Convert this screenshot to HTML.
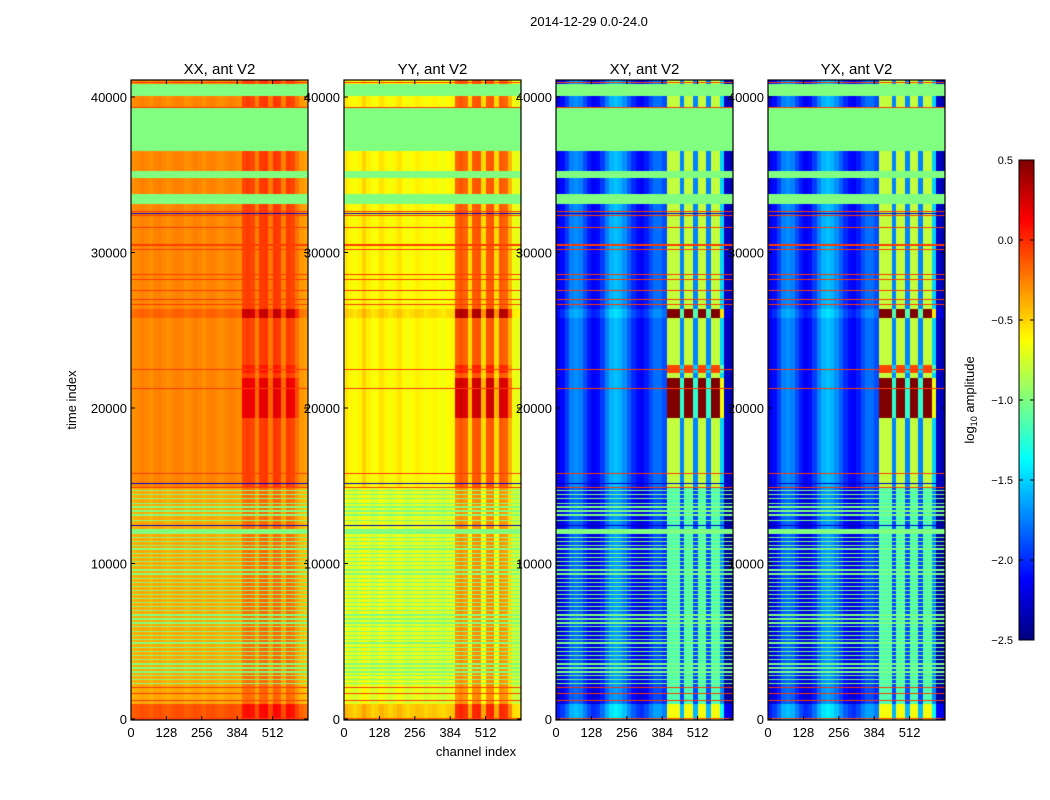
<!DOCTYPE html>
<html><head><meta charset="utf-8">
<style>
html,body{margin:0;padding:0;background:#fff;width:1050px;height:800px;overflow:hidden}
#wrap{position:relative;width:1050px;height:800px}
canvas,svg{position:absolute;left:0;top:0}
text{font-family:"Liberation Sans",sans-serif;fill:#000}
</style></head><body>
<div id="wrap">
<canvas id="hm" width="1050" height="800"></canvas>
<svg id="ov" width="1050" height="800"></svg>
</div>
<script>
// ---- data ----
const panelTitles = ["XX, ant V2","YY, ant V2","XY, ant V2","YX, ant V2"];
const xTicks = [0,128,256,384,512];
const yTicks = [0,10000,20000,30000,40000];
const cbTicks = [0.5,0.0,-0.5,-1.0,-1.5,-2.0,-2.5];
// column profiles, 40 bins of 16 channels (log10 amplitude)
const baseXX = [-0.3,-0.28,-0.25,-0.27,-0.3,-0.26,-0.25,-0.28,-0.3,-0.27,-0.25,-0.26,-0.3,-0.28,-0.25,-0.27,-0.3,-0.26,-0.25,-0.28,-0.3,-0.27,-0.25,-0.26,-0.28,-0.25,-0.22,-0.25,-0.3,-0.22,-0.2,-0.28,-0.2,-0.22,-0.3,-0.22,-0.25,-0.3,-0.32,-0.35];
const baseYY = [-0.55,-0.6,-0.65,-0.6,-0.5,-0.58,-0.65,-0.62,-0.55,-0.6,-0.65,-0.6,-0.55,-0.62,-0.66,-0.62,-0.58,-0.6,-0.65,-0.62,-0.6,-0.64,-0.66,-0.62,-0.6,-0.45,-0.4,-0.45,-0.6,-0.42,-0.4,-0.6,-0.42,-0.4,-0.6,-0.42,-0.45,-0.55,-0.68,-0.7];
const baseXY = [-2.2,-2.1,-1.95,-1.75,-1.7,-1.75,-1.9,-2.05,-2.15,-2.1,-1.95,-1.75,-1.6,-1.55,-1.6,-1.7,-1.85,-2.0,-2.1,-2.15,-2.05,-1.9,-1.8,-1.8,-1.9,-2.0,-2.0,-2.0,-2.1,-2.0,-2.0,-2.1,-2.0,-2.0,-2.1,-2.0,-2.0,-2.1,-2.3,-2.35];
const baseYX = [-2.2,-2.1,-1.95,-1.75,-1.7,-1.75,-1.9,-2.05,-2.15,-2.1,-1.95,-1.75,-1.6,-1.55,-1.6,-1.7,-1.85,-2.0,-2.1,-2.15,-2.05,-1.9,-1.8,-1.8,-1.9,-2.0,-2.0,-2.0,-2.1,-2.0,-2.0,-2.1,-2.0,-2.0,-2.1,-2.0,-2.0,-2.1,-2.3,-2.35];
const rfiShape = [0,0,0,0,0,0,0,0,0,0,0,0,0,0,0,0,0,0,0,0,0,0,0,0,0,1,1,1,0.3,1,1,0.3,1,1,0.3,1,1,0.5,0,0];
const rfiScale = [0.17,0.28,1.2,1.2];
// time segments: [start, end, flagValue|null, offset, rfiWeight]
const timeSegments = [
 [0,15000,null,-0.1,0.8],
 [0,1000,null,0.15,1],
 [19400,22000,null,0,2.4],
 [22300,22800,null,0,1.6],
 [25850,26430,null,0.1,2.4],
 [36590,39380,-1.0,0,0],[40130,40900,-1.0,0,0],[34855,35300,-1.0,0,0],[33180,33825,-1.0,0,0],[11960,12280,-1.0,0,0],
 [39380,39450,-0.05,0,0],[40950,41000,-0.05,0,0],[32900,32950,-0.05,0,0],[32700,32750,-0.05,0,0],[32400,32450,-0.05,0,0],
 [31650,31720,-0.05,0,0],[30500,30580,-0.05,0,0],[30200,30260,-0.05,0,0],[29100,29160,-0.05,0,0],[28600,28660,-0.05,0,0],
 [28300,28350,-0.05,0,0],[27600,27660,-0.05,0,0],[27000,27050,-0.05,0,0],[26700,26750,-0.05,0,0],[22500,22560,-0.05,0,0],
 [21300,21360,-0.05,0,0],[15800,15860,-0.05,0,0],[15600,15650,-0.05,0,0],[14900,14960,-0.05,0,0],[2050,2120,-0.05,0,0],
 [1700,1760,-0.05,0,0],[1450,1510,-0.05,0,0],[1250,1300,-0.05,0,0],[40,100,-0.05,0,0],
 [32540,32600,-2.3,0,0],[15200,15250,-2.3,0,0],[12480,12530,-2.3,0,0]
];
const stripeStarts = [14700,14450,14200,13900,13650,13400,13150,12800,11700,11450,11200,10950,10650,10400,10150,9900,9600,9350,9050,8800,8550,8300,8050,7750,7500,7250,7000,6700,6450,6200,5950,5650,5400,5150,4900,4600,4350,4100,3850,3550,3300,3050,2800,2550,2300];
const stripeWidth = 85;
const stripeValue = -1.0;

// ---- layout ----
const panelX = [131,344,556,768], panelW = 177, pTop = 80, pBot = 720;
const nChan = 640, vmin = -2.5, vmax = 0.5;
const bases = [baseXX,baseYY,baseXY,baseYX];
function yScale(t){return 719 - t*622/40000;}
function xScale(c,p){return panelX[p] + c*panelW/nChan;}
function jet(v){
  let x=(v-vmin)/(vmax-vmin); x=Math.max(0,Math.min(1,x));
  const f=(a)=>Math.max(0,Math.min(1,a));
  return [f(1.5-Math.abs(4*x-3))*255,f(1.5-Math.abs(4*x-2))*255,f(1.5-Math.abs(4*x-1))*255];
}
function valueAt(t,c,p){
  let flag=null,off=0,w=1;
  for(const s of timeSegments){ if(t>=s[0]&&t<s[1]){ if(s[2]!==null){flag=s[2];} else {flag=null;off=s[3];w=s[4];} } }
  for(const s of stripeStarts){ if(t>=s&&t<s+stripeWidth) flag=stripeValue; }
  if(flag!==null) return flag;
  const b=Math.min(39,Math.floor(c/16));
  return bases[p][b]+off+w*rfiScale[p]*rfiShape[b];
}
const ctx=document.getElementById('hm').getContext('2d');
for(let p=0;p<4;p++){
  const img=ctx.createImageData(panelW,pBot-pTop);
  for(let py=pTop;py<pBot;py++){
    const t=(719.5-py)*40000/622;
    for(let px=0;px<panelW;px++){
      const c=(px+0.5)*nChan/panelW;
      const col=jet(valueAt(t,c,p));
      const i=((py-pTop)*panelW+px)*4;
      img.data[i]=col[0];img.data[i+1]=col[1];img.data[i+2]=col[2];img.data[i+3]=255;
    }
  }
  ctx.putImageData(img,panelX[p],pTop);
}
// colorbar
const cbX=1019,cbW=15,cbT=160,cbB=640;
for(let y=cbT;y<cbB;y++){
  const v=vmax-(y-cbT+0.5)/(cbB-cbT)*(vmax-vmin);
  const c=jet(v);ctx.fillStyle=`rgb(${c[0]|0},${c[1]|0},${c[2]|0})`;ctx.fillRect(cbX,y,cbW,1);
}
// ---- overlay ----
const svg=document.getElementById('ov');const NS='http://www.w3.org/2000/svg';
function mk(tag,attrs,txt){const e=document.createElementNS(NS,tag);for(const k in attrs)e.setAttribute(k,attrs[k]);if(txt!==undefined)e.textContent=txt;svg.appendChild(e);return e;}
let e=mk('text',{x:589,y:26,'text-anchor':'middle','font-size':13},'2014-12-29 0.0-24.0');


for(let p=0;p<4;p++){
  const x0=panelX[p],x1=x0+panelW;
  e=mk('rect',{x:x0,y:pTop,width:panelW,height:pBot-pTop,fill:'none',stroke:'#000','stroke-width':1.2});
  
  
  e=mk('text',{x:(x0+x1)/2,y:74,'text-anchor':'middle','font-size':15},panelTitles[p]);
  
  
  for(const c of xTicks){
    const x=xScale(c,p);
    mk('line',{x1:x,x2:x,y1:pBot,y2:pBot-4,stroke:'#000'});
    mk('line',{x1:x,x2:x,y1:pTop,y2:pTop+4,stroke:'#000'});
    e=mk('text',{x:x,y:737,'text-anchor':'middle','font-size':13},String(c));
    
    
  }
  for(const t of yTicks){
    const y=yScale(t);
    mk('line',{x1:x0,x2:x0+4,y1:y,y2:y,stroke:'#000'});
    mk('line',{x1:x1,x2:x1-4,y1:y,y2:y,stroke:'#000'});
    e=mk('text',{x:x0-4,y:y+5,'text-anchor':'end','font-size':13},String(t));
    
    
  }
}
e=mk('text',{x:476,y:756,'text-anchor':'middle','font-size':13},'channel index');


e=mk('text',{x:0,y:0,'text-anchor':'middle','font-size':13,transform:'translate(76,400) rotate(-90)'},'time index');


e=mk('rect',{x:cbX,y:cbT,width:cbW,height:cbB-cbT,fill:'none',stroke:'#000'});


for(const v of cbTicks){
  const y=cbT+(vmax-v)/(vmax-vmin)*(cbB-cbT);
  mk('line',{x1:cbX,x2:cbX+4,y1:y,y2:y,stroke:'#000'});
  mk('line',{x1:cbX+cbW,x2:cbX+cbW-4,y1:y,y2:y,stroke:'#000'});
  e=mk('text',{x:1013,y:y+4,'text-anchor':'end','font-size':11},v.toFixed(1).replace('-','\u2212'));
  
  
}
e=mk('text',{x:0,y:0,'text-anchor':'middle','font-size':13,transform:'translate(974,400) rotate(-90)'});


e.innerHTML='log<tspan font-size="9" dy="3">10</tspan><tspan dy="-3"> amplitude</tspan>';
</script>
</body></html>
